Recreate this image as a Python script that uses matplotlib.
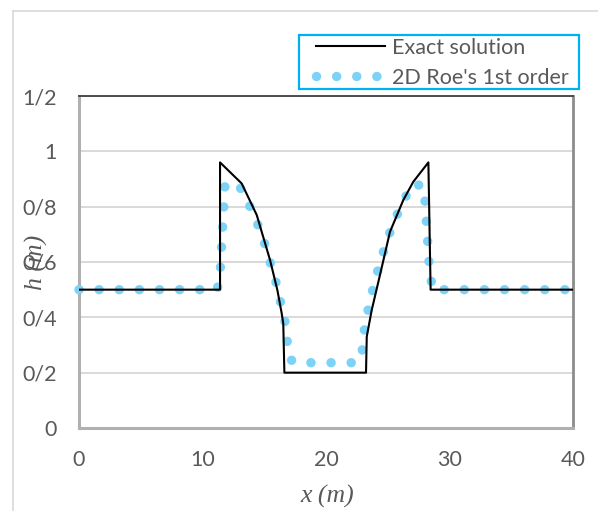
import numpy as np
import matplotlib
matplotlib.use("Agg")
import matplotlib.pyplot as plt
from matplotlib.lines import Line2D
from matplotlib.patches import Rectangle

# exact solution
exact_x = [0, 11.42, 11.42, 13.17, 14.39, 15.47, 16.06, 16.41, 16.54, 16.63,
           23.24, 23.3, 23.7, 24.37, 25.18, 26.26, 27.07, 28.29, 28.47, 40]
exact_h = [0.5, 0.5, 0.96, 0.884, 0.77, 0.607, 0.499, 0.415, 0.378, 0.2,
           0.2, 0.33, 0.426, 0.553, 0.709, 0.824, 0.89, 0.96, 0.5, 0.5]

# 2D Roe 1st order
roe_x = [0, 11.2, 11.45, 11.82, 12.9, 13.66, 14.33, 14.93, 15.38, 15.87, 16.22,
         16.63, 16.82, 17.05, 17.5, 22.5, 22.9, 23.02, 23.29, 23.64, 24.05,
         24.51, 24.99, 25.59, 26.26, 27.07, 27.94, 28.37, 28.62, 40]
roe_h = [0.5, 0.5, 0.58, 0.878, 0.882, 0.818, 0.752, 0.682, 0.613, 0.543, 0.472,
         0.402, 0.328, 0.25, 0.236, 0.236, 0.26, 0.332, 0.402, 0.474, 0.547,
         0.617, 0.686, 0.754, 0.821, 0.884, 0.872, 0.58, 0.5, 0.5]

yticks = [0, 0.2, 0.4, 0.6, 0.8, 1.0, 1.2]
ytick_labels = ["0", "0/2", "0/4", "0/6", "0/8", "1", "1/2"]
xticks = [0, 10, 20, 30, 40]

grey = "#595959"
fig = plt.figure(figsize=(5.98, 5.11), dpi=100)
ax = fig.add_axes([79/598, 1-428/511, (573-79)/598, (428-96)/511])

# chart area border
fig.add_artist(Line2D([13/598, 13/598], [0, 1-11/511], color="#d9d9d9", lw=1.2, transform=fig.transFigure))
fig.add_artist(Line2D([13/598, 1], [1-11/511, 1-11/511], color="#d9d9d9", lw=1.2, transform=fig.transFigure))

dotstyle = dict(color="#7dd3f7", lw=6.8, linestyle=(0, (0.01, 2.12)), dash_capstyle="round")
ax.plot(roe_x, roe_h, label="2D Roe's 1st order", zorder=4, clip_on=False, **dotstyle)
ax.plot(exact_x, exact_h, color="black", lw=1.5, label="Exact solution", zorder=5)

ax.set_xlim(0, 40)
ax.set_ylim(0, 1.2)
ax.set_xticks(xticks)
ax.set_yticks(yticks)
ax.set_yticklabels(ytick_labels)
ax.tick_params(length=0, labelsize=15.5, labelcolor=grey, labelfontfamily="Lato")
ax.tick_params(axis="y", pad=16)
ax.tick_params(axis="x", pad=16)
ax.grid(axis="y", color="#d9d9d9", lw=1.4)
ax.set_axisbelow(True)

ax.spines["left"].set_color("#b0b0b0")
ax.spines["left"].set_linewidth(2.2)
ax.spines["bottom"].set_color("#b0b0b0")
ax.spines["bottom"].set_linewidth(2.2)
ax.spines["right"].set_color("#8c8c8c")
ax.spines["right"].set_linewidth(2)
ax.spines["top"].set_color("#404040")
ax.spines["top"].set_linewidth(1.3)

fig.text(327/598, 1-496/511, "x (m)", family="Liberation Serif", style="italic",
         fontsize=18.5, color=grey, ha="center", va="center")
fig.text(36/598, 1-262/511, "h (m)", family="Liberation Serif", style="italic",
         fontsize=18.5, color=grey, ha="center", va="center", rotation=90)

# legend with its own cyan box
fig.add_artist(Rectangle((299/598, 1-89/511), 280/598, 54/511, transform=fig.transFigure,
                         facecolor="white", edgecolor="#00b0f0", lw=1.6, zorder=6))
h, l = ax.get_legend_handles_labels()
leg = fig.legend(h[::-1], l[::-1], loc="upper left", bbox_to_anchor=(316/598, 1-38/511),
                 frameon=False, prop={"family": "Lato", "size": 15.5}, labelcolor=grey,
                 handlelength=3.2, handletextpad=0.35, borderpad=0, labelspacing=0.45,
                 borderaxespad=0)
leg.set_zorder(7)

fig.savefig("out.png", dpi=100)
